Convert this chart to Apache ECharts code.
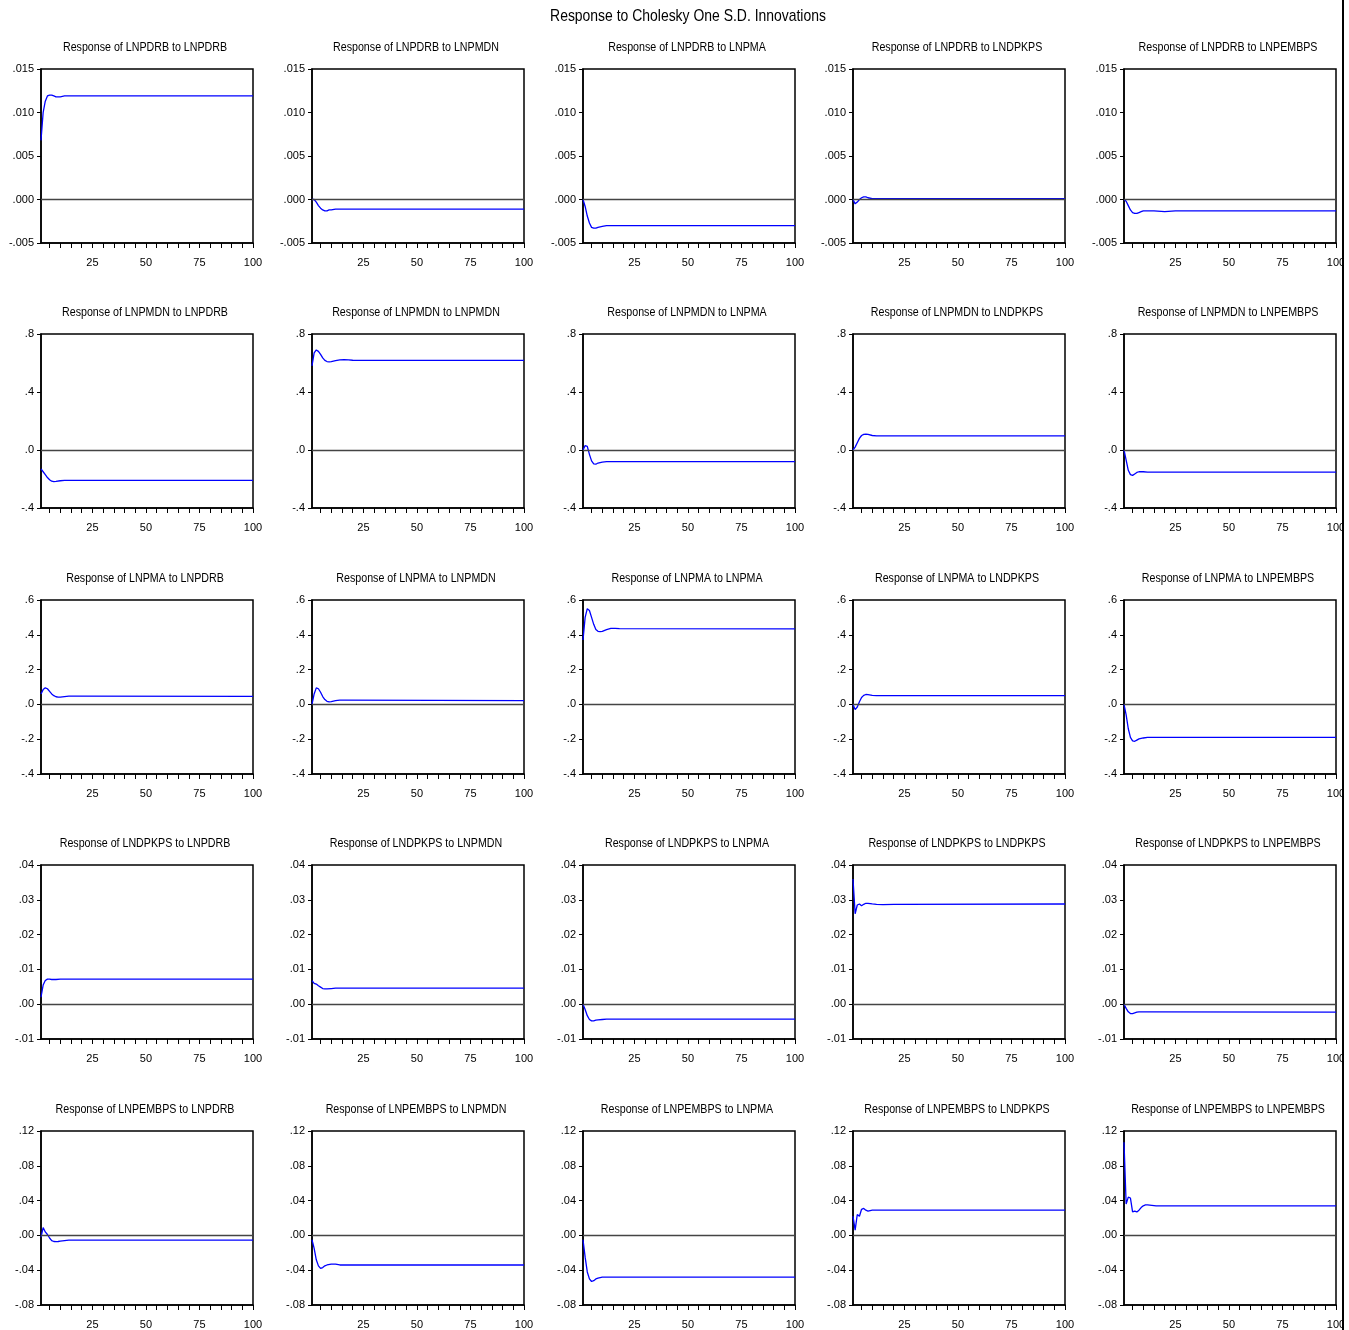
<!DOCTYPE html>
<html>
<head>
<meta charset="utf-8">
<title>Response to Cholesky One S.D. Innovations</title>
<script src="https://cdn.jsdelivr.net/npm/echarts@6/dist/echarts.min.js"></script>
<style>
    html, body { margin: 0; padding: 0; background: #fff; }
    #chart { width: 1349px; height: 1330px; }
</style>
</head>
<body>
<div id="chart"></div>
<script>
(function (echarts) {
    "use strict";
    var variables = ['LNPDRB', 'LNPMDN', 'LNPMA', 'LNDPKPS', 'LNPEMBPS'];
    var mainTitle = 'Response to Cholesky One S.D. Innovations';

    // [period, response]; flat tails run as one segment to period 100
    var respLNPDRB = [
        [[1, .0068], [2, .0100], [3, .0113], [4, .0119], [5, .0120], [6, .0120], [7, .0119], [8, .0118], [10, .0118], [12, .0119], [100, .0119]],
        [[1, 0], [2, 0], [3, -.0003], [4, -.0007], [5, -.0010], [6, -.0012], [7, -.0013], [8, -.0013], [9, -.0012], [10, -.0012], [12, -.0011], [100, -.0011]],
        [[1, 0], [2, -.0008], [3, -.0019], [4, -.0027], [5, -.0032], [6, -.0033], [7, -.0033], [8, -.0032], [10, -.0031], [12, -.0030], [100, -.0030]],
        [[1, 0], [2, -.0005], [3, -.0003], [4, 0], [5, .0002], [6, .0003], [7, .0003], [8, .0002], [10, .0001], [100, .0001]],
        [[1, 0], [2, -.0002], [3, -.0007], [4, -.0012], [5, -.0015], [6, -.0016], [7, -.0016], [8, -.0015], [9, -.0014], [10, -.0013], [15, -.0013], [20, -.0014], [25, -.0013], [100, -.0013]]
    ];
    var respLNPMDN = [
        [[1, -.13], [2, -.15], [3, -.17], [4, -.19], [5, -.205], [6, -.215], [7, -.218], [8, -.217], [10, -.212], [12, -.21], [100, -.21]],
        [[1, .58], [2, .67], [3, .69], [4, .68], [5, .66], [6, .635], [7, .618], [8, .61], [9, .608], [10, .61], [12, .617], [14, .622], [16, .623], [18, .621], [20, .619], [100, .618]],
        [[1, 0], [2, .03], [3, .025], [4, -.03], [5, -.075], [6, -.095], [7, -.098], [8, -.09], [10, -.083], [12, -.08], [100, -.08]],
        [[1, 0], [2, .02], [3, .05], [4, .08], [5, .1], [6, .108], [7, .11], [8, .107], [10, .1], [12, .098], [100, .098]],
        [[1, 0], [2, -.07], [3, -.14], [4, -.17], [5, -.175], [6, -.165], [7, -.155], [8, -.15], [10, -.15], [12, -.152], [100, -.152]]
    ];
    var respLNPMA = [
        [[1, .06], [2, .085], [3, .095], [4, .09], [5, .075], [6, .06], [7, .05], [8, .044], [9, .042], [10, .042], [12, .045], [14, .047], [16, .048], [100, .046]],
        [[1, 0], [2, .06], [3, .095], [4, .09], [5, .07], [6, .045], [7, .028], [8, .018], [9, .015], [10, .016], [12, .022], [14, .025], [16, .025], [100, .022]],
        [[1, .37], [2, .5], [3, .55], [4, .54], [5, .5], [6, .46], [7, .43], [8, .42], [9, .418], [10, .42], [12, .43], [14, .437], [16, .437], [18, .435], [100, .434]],
        [[1, 0], [2, -.03], [3, -.015], [4, .015], [5, .04], [6, .052], [7, .057], [8, .056], [10, .052], [12, .05], [100, .05]],
        [[1, 0], [2, -.06], [3, -.14], [4, -.19], [5, -.21], [6, -.212], [7, -.205], [8, -.198], [10, -.193], [12, -.19], [100, -.19]]
    ];
    var respLNDPKPS = [
        [[1, .002], [2, .0055], [3, .0068], [4, .0072], [5, .0072], [6, .0071], [8, .0071], [10, .0072], [100, .0072]],
        [[1, .0068], [2, .006], [3, .0058], [4, .0053], [5, .0049], [6, .0045], [7, .0044], [8, .0044], [10, .0045], [12, .0046], [100, .0046]],
        [[1, 0], [2, -.0015], [3, -.0033], [4, -.0044], [5, -.0048], [6, -.0048], [7, -.0046], [8, -.0045], [10, -.0044], [12, -.0043], [100, -.0043]],
        [[1, .036], [2, .026], [3, .0285], [4, .0288], [5, .0283], [6, .0287], [7, .029], [8, .029], [10, .0288], [12, .0287], [15, .0286], [20, .0287], [100, .0288]],
        [[1, 0], [2, -.0012], [3, -.0022], [4, -.0027], [5, -.0027], [6, -.0025], [7, -.0023], [8, -.0022], [12, -.0022], [100, -.0023]]
    ];
    var respLNPEMBPS = [
        [[1, -.002], [2, .009], [3, .004], [4, .001], [5, -.003], [6, -.006], [7, -.007], [8, -.0072], [9, -.007], [10, -.0065], [12, -.006], [14, -.0055], [100, -.0055]],
        [[1, -.005], [2, -.015], [3, -.028], [4, -.035], [5, -.038], [6, -.037], [7, -.035], [8, -.034], [10, -.033], [12, -.033], [14, -.034], [100, -.034]],
        [[1, -.005], [2, -.025], [3, -.042], [4, -.05], [5, -.053], [6, -.052], [7, -.05], [8, -.049], [10, -.048], [100, -.048]],
        [[1, .022], [2, .006], [3, .024], [4, .022], [5, .03], [6, .031], [7, .029], [8, .028], [10, .029], [100, .029]],
        [[1, .107], [2, .036], [3, .044], [4, .043], [5, .027], [6, .028], [7, .027], [8, .029], [9, .032], [10, .034], [11, .035], [12, .035], [14, .0345], [16, .034], [100, .034]]
    ];
    var responses = [respLNPDRB, respLNPMDN, respLNPMA, respLNDPKPS, respLNPEMBPS];

    // y axis per row (responding variable)
    var yMin = [-.005, -.4, -.4, -.01, -.08];
    var yMax = [.015, .8, .6, .04, .12];
    var yStep = [.005, .4, .2, .01, .04];
    var yDigits = [3, 1, 1, 2, 2];
    var xTicks = [5, 10, 15, 20, 25, 30, 35, 40, 45, 50, 55, 60, 65, 70, 75, 80, 85, 90, 95, 100];
    var xLabels = [25, 50, 75, 100];

    var colLeft = [41, 312, 583, 853, 1124];
    var rowTop = [69, 334, 600, 865, 1131];
    var plotW = 212, plotH = 174;
    var font = "'Liberation Sans', Arial, sans-serif";
    var narrow = 0.82; // the original uses a narrow face, squeeze the titles to match

    function fmt(d) {
        return function (v) {
            return Number(v).toFixed(d).replace('0.', '.');
        };
    }

    function textItem(str, cx, cy, size) {
        return {
            type: 'text', x: cx, y: cy, scaleX: narrow, z: 50, silent: true,
            style: {
                text: str, align: 'center', verticalAlign: 'middle',
                fontFamily: font, fontSize: size, fill: '#000'
            }
        };
    }

    var grids = [], xAxes = [], yAxes = [], series = [];
    var texts = [textItem(mainTitle, 688, 16, 17)];

    for (var r = 0; r < 5; r++) {
        for (var c = 0; c < 5; c++) {
            var k = r * 5 + c;
            grids.push({
                left: colLeft[c], top: rowTop[r], width: plotW, height: plotH,
                show: true, borderColor: '#000', borderWidth: 1.5, backgroundColor: '#fff'
            });
            texts.push(textItem('Response of ' + variables[r] + ' to ' + variables[c],
                colLeft[c] + plotW / 2 - 2, rowTop[r] - 22, 13));
            xAxes.push({
                type: 'value', gridIndex: k, min: 1, max: 100,
                axisLine: {onZero: false, lineStyle: {color: '#000', width: 1.5}},
                axisTick: {show: true, length: 5, customValues: xTicks, lineStyle: {color: '#000'}},
                axisLabel: {customValues: xLabels, margin: 14, fontFamily: font, fontSize: 11, color: '#000'},
                splitLine: {show: false}
            });
            yAxes.push({
                type: 'value', gridIndex: k, min: yMin[r], max: yMax[r], interval: yStep[r],
                axisLine: {show: true, lineStyle: {color: '#000', width: 1.5}},
                axisTick: {show: true, length: 4, lineStyle: {color: '#000'}},
                axisLabel: {formatter: fmt(yDigits[r]), margin: 7, fontFamily: font, fontSize: 11, color: '#000'},
                splitLine: {show: false}
            });
            series.push({
                type: 'line', xAxisIndex: k, yAxisIndex: k,
                data: responses[r][c],
                showSymbol: false, symbol: 'none',
                lineStyle: {color: '#0000ff', width: 1.3},
                markLine: {
                    silent: true, symbol: ['none', 'none'],
                    label: {show: false},
                    lineStyle: {color: '#444', width: 1.3, type: 'solid'},
                    data: [{yAxis: 0}]
                },
                z: 3
            });
        }
    }

    var myChart = echarts.init(document.getElementById('chart'), null, {renderer: 'canvas'});
    myChart.setOption({
        animation: false,
        backgroundColor: '#fff',
        grid: grids,
        xAxis: xAxes,
        yAxis: yAxes,
        series: series,
        graphic: texts.concat([
            {type: 'rect', x: 1344, y: 0, z: 100, silent: true, shape: {width: 5, height: 1330}, style: {fill: '#fff'}},
            {type: 'rect', x: 1342, y: 0, z: 101, silent: true, shape: {width: 2, height: 1330}, style: {fill: '#000'}}
        ])
    });
}(echarts));
</script>
</body>
</html>
